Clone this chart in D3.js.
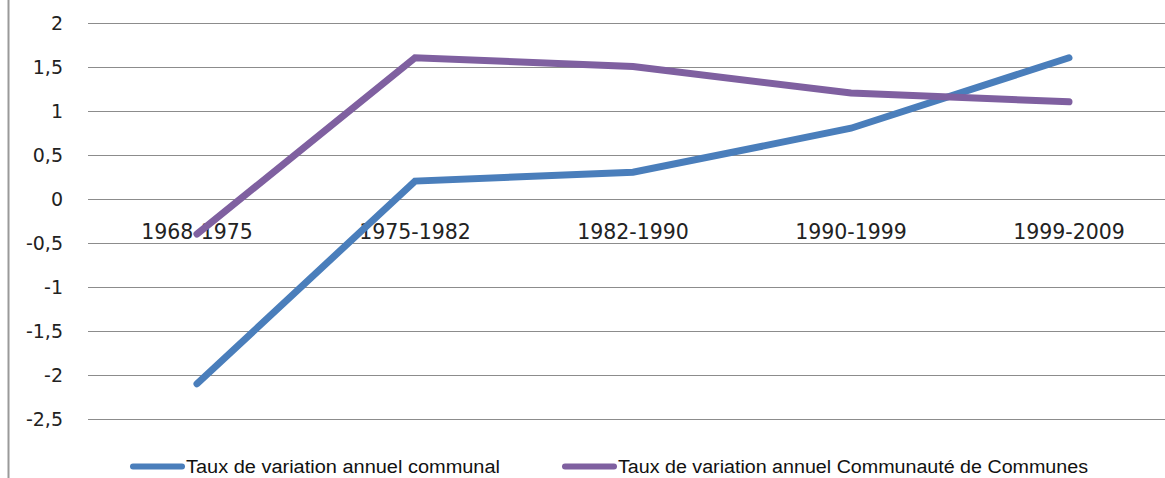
<!DOCTYPE html>
<html>
<head>
<meta charset="utf-8">
<script src="https://cdn.jsdelivr.net/npm/d3@7"></script>
<style>
  body { margin: 0; background: #fff; }
  svg { display: block; }
</style>
</head>
<body>
<svg class="chart" width="1165" height="478"></svg>
<script>
var periods = ['1968-1975', '1975-1982', '1982-1990', '1990-1999', '1999-2009'];
var communal = [-2.1, 0.2, 0.3, 0.8, 1.6];
var communaute = [-0.4, 1.6, 1.5, 1.2, 1.1];
var yTicks = [2, 1.5, 1, 0.5, 0, -0.5, -1, -1.5, -2, -2.5];
var seriesNames = ['Taux de variation annuel communal', 'Taux de variation annuel Communauté de Communes'];
var colors = ['#4a7ebb', '#7f60a0'];

var svg = d3.select('.chart');
var left = 88, right = 1178;

var x = d3.scaleBand().domain(periods).range([left, right]);
var y = d3.scaleLinear().domain([-2.5, 2]).range([419, 22.5]);

// cadre gauche
svg.append('line')
    .attr('x1', 8.5).attr('x2', 8.5)
    .attr('y1', 0).attr('y2', 478)
    .attr('stroke', '#9a9a9a')
    .attr('stroke-width', 2);

// grille
svg.append('g')
    .selectAll('line')
    .data(yTicks)
    .enter()
    .append('line')
    .attr('x1', left).attr('x2', 1165)
    .attr('y1', d => Math.round(y(d)) + 0.5)
    .attr('y2', d => Math.round(y(d)) + 0.5)
    .attr('stroke', '#8c8c8c')
    .attr('stroke-width', 1);

var fmt = d => String(d).replace('.', ',');

svg.append('g')
    .selectAll('text')
    .data(yTicks)
    .enter()
    .append('text')
    .attr('x', 63)
    .attr('y', d => y(d) + 7)
    .attr('text-anchor', 'end')
    .style('font-family', 'DejaVu Sans')
    .style('font-size', '19px')
    .attr('fill', '#222')
    .text(fmt);

// étiquettes des périodes, le long de l'axe 0
svg.append('g')
    .selectAll('text')
    .data(periods)
    .enter()
    .append('text')
    .attr('x', d => x(d) + x.bandwidth() / 2)
    .attr('y', y(0) + 40)
    .attr('text-anchor', 'middle')
    .style('font-family', 'DejaVu Sans')
    .style('font-size', '20.5px')
    .attr('fill', '#222')
    .text(d => d);

var line = d3.line()
    .x((d, i) => x(periods[i]) + x.bandwidth() / 2)
    .y(d => y(d));

[communal, communaute].forEach(function(values, i) {
    svg.append('path')
        .attr('d', line(values))
        .attr('fill', 'none')
        .attr('stroke', colors[i])
        .attr('stroke-width', 7)
        .attr('stroke-linecap', 'round')
        .attr('stroke-linejoin', 'miter');
});

// légende
var legendX = [130, 562];
var legendW = [314, 470];
seriesNames.forEach(function(name, i) {
    var g = svg.append('g');
    g.append('line')
        .attr('x1', legendX[i] + 3).attr('x2', legendX[i] + 52)
        .attr('y1', 466.5).attr('y2', 466.5)
        .attr('stroke', colors[i])
        .attr('stroke-width', 6)
        .attr('stroke-linecap', 'round');
    g.append('text')
        .attr('x', legendX[i] + 56)
        .attr('y', 473)
        .attr('textLength', legendW[i])
        .attr('lengthAdjust', 'spacingAndGlyphs')
        .style('font-family', '"Liberation Sans Narrow", "Liberation Sans"')
        .style('font-size', '18px')
        .attr('fill', '#111')
        .text(name);
});
</script>
</body>
</html>
